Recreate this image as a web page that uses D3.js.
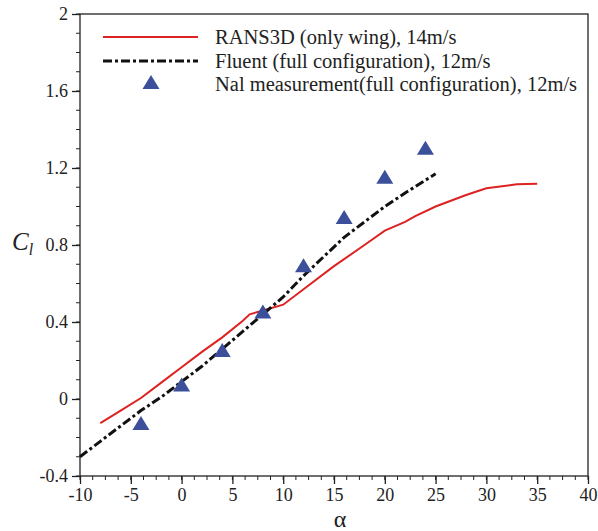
<!DOCTYPE html>
<html>
<head>
<meta charset="utf-8">
<script src="https://cdn.jsdelivr.net/npm/d3@7"></script>
<style>
  body { margin: 0; background: #fff; }
  svg text { font-family: "Liberation Serif", "Times New Roman", serif; }
</style>
</head>
<body>
<svg id="chart" width="598" height="531"></svg>
<script>
// Lift coefficient vs angle of attack
const ransAlpha = [-8, -6, -4, -2, 0, 2, 4, 6, 6.7, 8, 10, 12, 15, 18, 20, 22, 23, 25, 28, 30, 33, 35];
const ransCl    = [-0.125, -0.06, 0.005, 0.085, 0.165, 0.245, 0.32, 0.405, 0.44, 0.46, 0.49, 0.57, 0.69, 0.8, 0.875, 0.92, 0.95, 1.0, 1.06, 1.095, 1.115, 1.118];

const fluentAlpha = [-10, -8, -6, -4, -2, 0, 2, 4, 6, 8, 10, 12, 14, 16, 18, 20, 22, 25];
const fluentCl    = [-0.30, -0.22, -0.14, -0.06, 0.01, 0.09, 0.17, 0.26, 0.35, 0.44, 0.53, 0.64, 0.74, 0.84, 0.92, 1.0, 1.07, 1.17];

const nalAlpha = [-4, 0, 4, 8, 12, 16, 20, 24];
const nalCl    = [-0.13, 0.07, 0.25, 0.45, 0.69, 0.94, 1.15, 1.30];

const xTicks = [-10, -5, 0, 5, 10, 15, 20, 25, 30, 35, 40];
const yTicks = [-0.4, 0, 0.4, 0.8, 1.2, 1.6, 2];
const legendLabels = [
  "RANS3D (only wing), 14m/s",
  "Fluent (full configuration), 12m/s",
  "Nal measurement(full configuration), 12m/s"
];

const red = "#dd2222", blue = "#3c4f9a";
const svg = d3.select("#chart");
const L = 80, R = 588, T = 14, B = 476;
const x = d3.scaleLinear().domain([-10, 40]).range([L, R]);
const y = d3.scaleLinear().domain([-0.4, 2]).range([B, T]);

// minor ticks
const xMinor = d3.range(-10, 40.01, 1.25);
const yMinor = d3.range(-0.4, 2.001, 0.1);
svg.append("g").selectAll("line").data(xMinor).join("line")
  .attr("x1", d => x(d)).attr("x2", d => x(d)).attr("y1", B).attr("y2", B + 4)
  .attr("stroke", "#222").attr("stroke-width", 1);
svg.append("g").selectAll("line").data(yMinor).join("line")
  .attr("y1", d => y(d)).attr("y2", d => y(d)).attr("x1", L - 4).attr("x2", L)
  .attr("stroke", "#222").attr("stroke-width", 1);

// major axes
const fmt = d => String(+d.toFixed(1));
const xAxis = d3.axisBottom(x).tickValues(xTicks).tickSize(8).tickPadding(4).tickFormat(fmt);
const yAxis = d3.axisLeft(y).tickValues(yTicks).tickSize(8).tickPadding(4).tickFormat(fmt);
const gx = svg.append("g").attr("transform", `translate(0,${B})`).call(xAxis);
const gy = svg.append("g").attr("transform", `translate(${L},0)`).call(yAxis);
[gx, gy].forEach(g => {
  g.attr("font-family", null);
  g.select(".domain").remove();
  g.selectAll("line").attr("stroke", "#222").attr("stroke-width", 1.3);
  g.selectAll("text").attr("fill", "#222").style("font-size", "18px")
    .style("font-family", "'Liberation Serif', serif");
});

// frame
svg.append("rect").attr("x", L).attr("y", T).attr("width", R - L).attr("height", B - T)
  .attr("fill", "none").attr("stroke", "#222").attr("stroke-width", 1.3);

// series
const line = d3.line().x(d => x(d[0])).y(d => y(d[1]));
svg.append("path").datum(d3.zip(ransAlpha, ransCl)).attr("d", line)
  .attr("fill", "none").attr("stroke", red).attr("stroke-width", 2);
svg.append("path").datum(d3.zip(fluentAlpha, fluentCl)).attr("d", line)
  .attr("fill", "none").attr("stroke", "#111").attr("stroke-width", 3)
  .attr("stroke-dasharray", "9,3,3,3");

// triangle marker, 17 wide and 14 tall, centred on the point
const tri = "M0,-8L8.5,6L-8.5,6Z";
svg.append("g").selectAll("path").data(d3.zip(nalAlpha, nalCl)).join("path")
  .attr("transform", d => `translate(${x(d[0])},${y(d[1])})`)
  .attr("d", tri).attr("fill", blue);

// legend
const lg = svg.append("g");
lg.append("line").attr("x1", 103).attr("x2", 198).attr("y1", 37).attr("y2", 37)
  .attr("stroke", red).attr("stroke-width", 2);
lg.append("line").attr("x1", 103).attr("x2", 198).attr("y1", 61).attr("y2", 61)
  .attr("stroke", "#111").attr("stroke-width", 3).attr("stroke-dasharray", "9,3,3,3");
lg.append("path").attr("transform", "translate(151,83)").attr("d", tri).attr("fill", blue);
lg.selectAll("text").data(legendLabels).join("text")
  .attr("x", 215).attr("y", (d, i) => 44 + i * 23.5)
  .attr("fill", "#222").style("font-size", "20.5px").text(d => d);

// axis titles
svg.append("text").attr("x", 340).attr("y", 527).attr("text-anchor", "middle")
  .attr("fill", "#222").style("font-size", "24px").text("α");
const yl = svg.append("text").attr("x", 12).attr("y", 250).attr("fill", "#222")
  .style("font-size", "25px").style("font-style", "italic");
yl.append("tspan").text("C");
yl.append("tspan").attr("dy", 5).style("font-size", "16px").text("l");
</script>
</body>
</html>
